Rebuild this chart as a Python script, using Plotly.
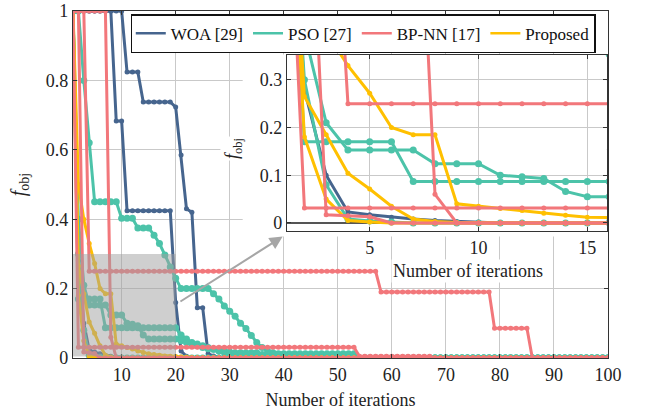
import plotly.graph_objects as go

# ---------------- data ----------------
iterations = list(range(1, 101))

woa_run1 = [1.0]*10 + [0.824]*3 + [0.738]*6 + [0.723, 0.585, 0.43, 0.42, 0.145, 0.145, 0.012, 0.006, 0.003] + [0.0]*72
woa_run2 = [1.0]*8 + [0.683]*2 + [0.424]*9 + [0.16, 0.02, 0.005] + [0.0]*78
woa_run3 = [1.0, 0.28, 0.10, 0.023, 0.017, 0.012, 0.008, 0.005, 0.003, 0.002] + [0.0]*90

pso_run1 = ([1.0, 1.0, 0.80, 0.62] + [0.45]*5 + [0.403]*3 + [0.375]*3 +
            [0.354, 0.33, 0.297, 0.262, 0.23] + [0.20]*6 +
            [0.185, 0.17, 0.15, 0.135, 0.12, 0.10, 0.085, 0.065, 0.045, 0.03, 0.02, 0.015] +
            [0.012]*15 + [0.0]*47)
pso_run2 = ([1.0] + [0.17]*5 + [0.087]*14 +
            [0.066, 0.055, 0.045, 0.04, 0.035, 0.03, 0.025, 0.02, 0.016, 0.013] +
            [0.01]*5 + [0.006]*5 + [0.0]*60)
pso_run3 = ([1.0, 0.40, 0.21] + [0.153]*4 + [0.124]*3 + [0.10, 0.097, 0.093, 0.066] + [0.055]*6 +
            [0.05, 0.045, 0.04, 0.035, 0.03, 0.027, 0.025, 0.022, 0.02, 0.017] +
            [0.015]*5 + [0.01]*5 + [0.005]*5 + [0.0]*55)
pso_run4 = [1.0, 0.30, 0.08, 0.008, 0.004, 0.002] + [0.0]*94

bp_run1 = [1.0]*7 + [0.06] + [0.0]*92
bp_run2 = [1.0]*3 + [0.25]*54 + [0.19]*21 + [0.086]*7 + [0.0]*15
bp_run3 = [1.0] + [0.031]*52 + [0.005]*14 + [0.0]*33
bp_run4 = [1.0, 1.0, 0.017, 0.015, 0.013] + [0.0]*95

prop_run1 = [1.0, 0.50, 0.40, 0.33, 0.272, 0.20, 0.185, 0.185, 0.04, 0.035, 0.03, 0.026,
             0.02, 0.016, 0.012, 0.01, 0.008, 0.006, 0.005, 0.004, 0.003, 0.002, 0.001] + [0.0]*77
prop_run2 = [1.0, 0.265, 0.185, 0.104, 0.071, 0.035, 0.008, 0.003, 0.001] + [0.0]*91
prop_run3 = [1.0, 0.18, 0.05, 0.005, 0.002] + [0.0]*95

method_names = ["WOA [29]", "PSO [27]", "BP-NN [17]", "Proposed"]
method_runs = [
    [woa_run1, woa_run2, woa_run3],
    [pso_run1, pso_run2, pso_run3, pso_run4],
    [bp_run1, bp_run2, bp_run3, bp_run4],
    [prop_run1, prop_run2, prop_run3],
]

main_xticks = [10, 20, 30, 40, 50, 60, 70, 80, 90, 100]
main_yticks = [0, 0.2, 0.4, 0.6, 0.8, 1]
main_yticklabels = ["0", "0.2", "0.4", "0.6", "0.8", "1"]
inset_xticks = [5, 10, 15]
inset_yticks = [0, 0.1, 0.2, 0.3]
main_xrange = [1, 100]
main_yrange = [0, 1]
inset_xrange = [1.2, 15.9]
inset_yrange = [-0.017, 0.352]
zoom_box_x = [1, 20]
zoom_box_y = [0.004, 0.3]

# ---------------- styling ----------------
colors = ["#46658e", "#4cc3a9", "#f2777b", "#ffc000"]
marker_sizes = [5, 7, 5, 5]
draw_order = [0, 1, 3, 2]          # red drawn on top
FONT = "Times New Roman, Liberation Serif, Times, serif"
GRID = "#c9c9c9"
AX = "#333333"

fig = go.Figure()

for m in draw_order:
    for run in method_runs[m]:
        for xa, ya in (("x", "y"), ("x2", "y2")):
            fig.add_trace(go.Scatter(
                x=iterations, y=run, xaxis=xa, yaxis=ya,
                mode="lines+markers",
                line=dict(color=colors[m], width=3),
                marker=dict(color=colors[m], size=marker_sizes[m]),
                name=method_names[m], legendgroup=method_names[m],
                showlegend=False,
            ))

# legend entries (line-only samples, like the reference)
for m, name in enumerate(method_names):
    fig.add_trace(go.Scatter(
        x=[None], y=[None], mode="lines", name=name, legendgroup=name,
        line=dict(color=colors[m], width=2.5), legendrank=m + 1, showlegend=True,
    ))

fig.update_layout(
    width=645, height=410,
    margin=dict(l=73, r=37, t=11, b=52, autoexpand=False),
    paper_bgcolor="white", plot_bgcolor="white",
    font=dict(family=FONT, size=18, color="#222"),
    showlegend=True,
    legend=dict(
        orientation="h", x=0.108, y=0.991, xanchor="left", yanchor="top",
        bgcolor="white", bordercolor="#111", borderwidth=1.5,
        font=dict(family=FONT, size=17, color="#111"),
        itemwidth=30, tracegroupgap=0,
    ),
    xaxis=dict(
        domain=[0, 1], range=main_xrange, tickvals=main_xticks, automargin=False,
        showgrid=True, gridcolor=GRID, gridwidth=1, zeroline=False,
        showline=True, mirror="ticks", linecolor=AX, linewidth=1.2,
        ticks="inside", ticklen=4, tickcolor=AX,
        title=dict(text="Number of iterations", font=dict(size=18), standoff=9),
    ),
    yaxis=dict(
        domain=[0, 1], range=main_yrange, tickvals=main_yticks, ticktext=main_yticklabels,
        automargin=False,
        showgrid=True, gridcolor=GRID, gridwidth=1, zeroline=False,
        showline=True, mirror="ticks", linecolor=AX, linewidth=1.2,
        ticks="inside", ticklen=4, tickcolor=AX,
        title=dict(text="<i>f</i><sub>obj</sub>", font=dict(size=20), standoff=14),
    ),
    xaxis2=dict(
        domain=[0.4, 0.998], anchor="y2", range=inset_xrange, tickvals=inset_xticks,
        automargin=False,
        showgrid=True, gridcolor=GRID, gridwidth=1, zeroline=False,
        showline=True, mirror="ticks", linecolor=AX, linewidth=1.2,
        ticks="inside", ticklen=4, tickcolor=AX, tickfont=dict(size=18),
    ),
    yaxis2=dict(
        domain=[0.366, 0.873], anchor="x2", range=inset_yrange, tickvals=inset_yticks,
        automargin=False,
        showgrid=True, gridcolor=GRID, gridwidth=1,
        zeroline=True, zerolinecolor="#555", zerolinewidth=1.5,
        showline=True, mirror="ticks", linecolor=AX, linewidth=1.2,
        ticks="inside", ticklen=4, tickcolor=AX, tickfont=dict(size=18),
    ),
)

# white panel behind the inset and its tick labels (hides main grid there)
fig.add_shape(type="rect", xref="x", yref="y", x0=32.4, x1=99.7, y0=0.35, y1=0.875,
              fillcolor="white", line=dict(width=0), layer="between")

# shaded zoom region on the main axes
fig.add_shape(type="rect", xref="x", yref="y",
              x0=zoom_box_x[0], x1=zoom_box_x[1], y0=zoom_box_y[0], y1=zoom_box_y[1],
              fillcolor="rgb(160,160,160)", opacity=0.5, line=dict(width=0), layer="above")

# arrow from the zoom region to the inset
fig.add_annotation(xref="x", yref="y", axref="x", ayref="y",
                   x=39.8, y=0.35, ax=20.6, ay=0.16, text="",
                   showarrow=True, arrowhead=2, arrowsize=1.3, arrowwidth=2,
                   arrowcolor="#a6a6a6", standoff=0)

# inset axis titles (with white background)
fig.add_annotation(xref="paper", yref="paper", x=0.299, y=0.605,
                   xanchor="center", yanchor="middle",
                   text="<i>f</i><sub>obj</sub>", textangle=-90, showarrow=False,
                   font=dict(family=FONT, size=18, color="#222"), bgcolor="white")
fig.add_annotation(xref="paper", yref="paper", x=0.738, y=0.251,
                   xanchor="center", yanchor="middle",
                   text="Number of iterations", showarrow=False,
                   font=dict(family=FONT, size=18, color="#222"), bgcolor="white")

fig.write_html("out.html")
